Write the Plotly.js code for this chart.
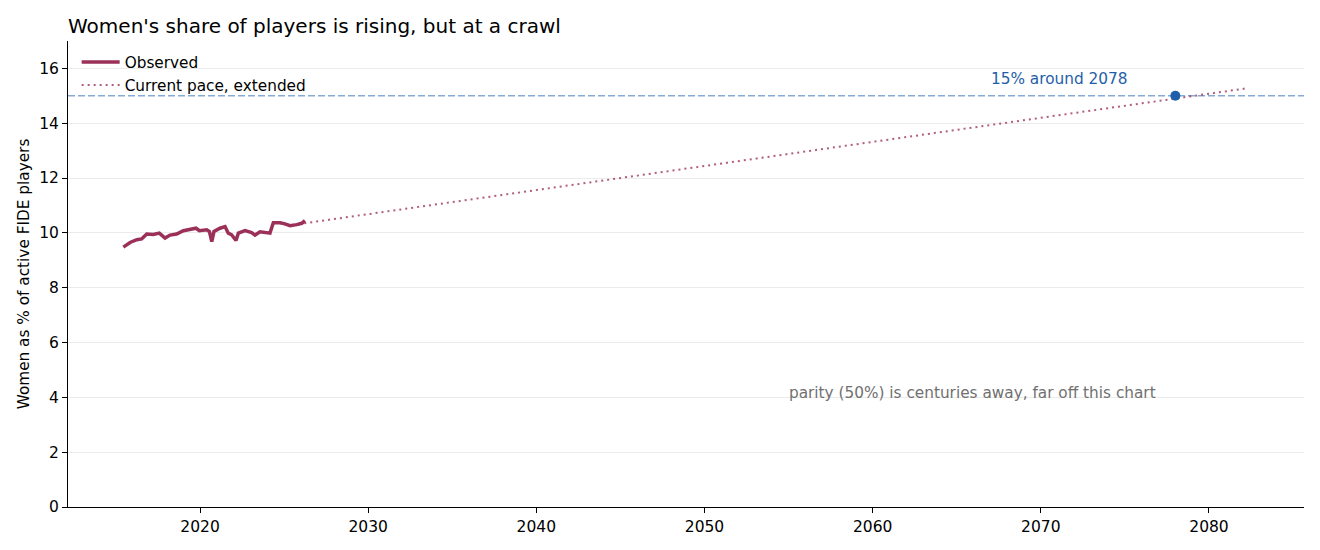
<!DOCTYPE html>
<html>
<head>
<meta charset="utf-8">
<script src="https://cdn.plot.ly/plotly-3.0.1.min.js"></script>
<style>
  html, body { margin: 0; padding: 0; background: #fff; }
  #chart { width: 1320px; height: 550px; }
</style>
</head>
<body>
<div id="chart"></div>
<script>
// observed share (decimal year, % women)
var obsYears = [2015.44, 2015.84, 2016.24, 2016.53, 2016.83, 2017.22, 2017.58, 2017.92,
  2018.22, 2018.61, 2019.01, 2019.41, 2019.76, 2019.96, 2020.40, 2020.56, 2020.70, 2020.83,
  2021.19, 2021.49, 2021.68, 2021.88, 2022.14, 2022.28, 2022.68, 2023.07, 2023.27, 2023.57,
  2023.97, 2024.16, 2024.36, 2024.76, 2025.05, 2025.35, 2025.75, 2026.05, 2026.24];
var obsShare = [9.48, 9.65, 9.75, 9.78, 9.96, 9.94, 9.99, 9.81,
  9.92, 9.96, 10.08, 10.13, 10.17, 10.08, 10.11, 10.05, 9.68, 10.05,
  10.17, 10.23, 9.99, 9.93, 9.72, 9.99, 10.08, 10.01, 9.92, 10.04,
  10.01, 9.99, 10.37, 10.37, 10.33, 10.26, 10.30, 10.35, 10.45];

// current pace, extended
var paceYears = [2026.2, 2082.2];
var paceShare = [10.35, 15.27];

var targetShare = 15;
var targetYear = 2078;
var yTicks = [0, 2, 4, 6, 8, 10, 12, 14, 16];

var maroon = "#9b3158";
var blue = "#1f5ea8";
var font = "DejaVu Sans, sans-serif";

var traces = [
  {
    type: "scatter", mode: "lines", name: "Observed",
    x: obsYears, y: obsShare,
    line: { color: maroon, width: 3.5 }
  },
  {
    type: "scatter", mode: "lines", name: "Current pace, extended",
    x: paceYears, y: paceShare,
    line: { color: "rgba(155,49,88,0.78)", width: 2, dash: "2px,4px" }
  },
  {
    type: "scatter", mode: "markers", showlegend: false,
    x: [targetYear], y: [targetShare],
    marker: { color: blue, size: 10 }
  }
];

var layout = {
  width: 1320, height: 550,
  margin: { l: 68, r: 16, t: 41, b: 43 },
  paper_bgcolor: "#fff", plot_bgcolor: "#fff",
  font: { family: font, size: 15, color: "#000" },
  title: { text: "Women's share of players is rising, but at a crawl", x: 68 / 1320, xanchor: "left", y: 0.953, yanchor: "middle", font: { size: 20, color: "#000" } },
  showlegend: true,
  legend: { x: 0.007, y: 0.99, xanchor: "left", yanchor: "top", bgcolor: "rgba(255,255,255,0)", font: { size: 15.3 }, itemwidth: 38 },
  xaxis: {
    range: [2012.15, 2085.65], tick0: 2020, dtick: 10, showgrid: false, zeroline: false,
    showline: true, linecolor: "#000", linewidth: 1, ticks: "outside", ticklen: 5, tickcolor: "#000",
    tickfont: { size: 15.5 }
  },
  yaxis: {
    range: [0, 17], tickvals: yTicks, showgrid: true, gridcolor: "#ebebeb", zeroline: false,
    showline: true, linecolor: "#000", linewidth: 1, ticks: "outside", ticklen: 5, tickcolor: "#000",
    tickfont: { size: 15.5 },
    title: { text: "Women as % of active FIDE players", font: { size: 15.3 }, standoff: 5 }
  },
  shapes: [{
    type: "line", xref: "paper", x0: 0, x1: 1, yref: "y", y0: targetShare, y1: targetShare,
    line: { color: "#86abd4", width: 1.5, dash: "7px,3px" }, layer: "below"
  }],
  annotations: [
    { x: 2071.1, y: 15.62, xref: "x", yref: "y", text: "15% around " + targetYear, showarrow: false,
      font: { size: 15.3, color: blue } },
    { x: 2065.95, y: 4.15, xref: "x", yref: "y", text: "parity (50%) is centuries away, far off this chart", showarrow: false,
      font: { size: 15.3, color: "#707070" } }
  ]
};

Plotly.newPlot("chart", traces, layout, { displayModeBar: false });
</script>
</body>
</html>
